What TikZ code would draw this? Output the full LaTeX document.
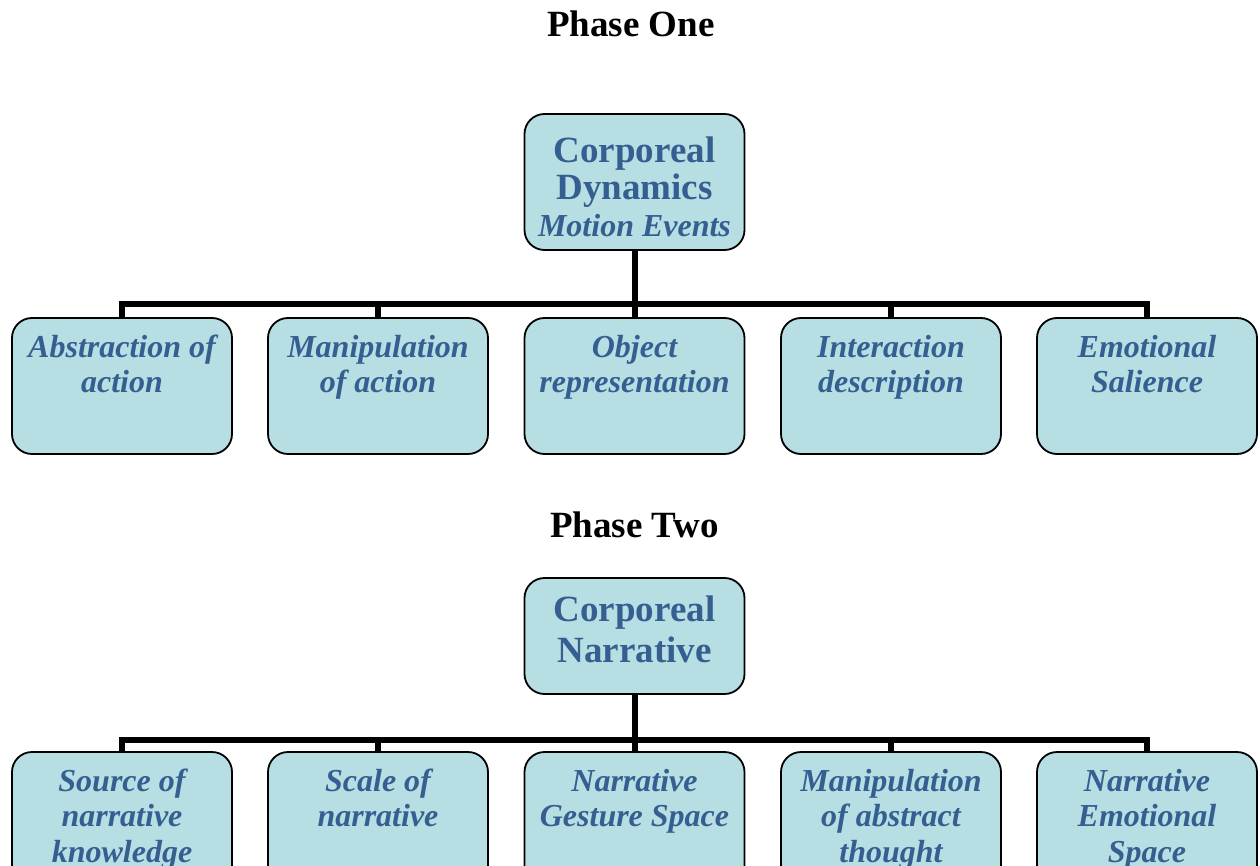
\documentclass[tikz,border=0pt]{standalone}
\usepackage{fontspec}
\setmainfont{Liberation Serif}
\definecolor{boxfill}{HTML}{B7DEE3}
\definecolor{boxtext}{HTML}{365F91}
% box content: fixed-height top-aligned paragraph, first baseline #2 below the top
\newcommand{\cellbody}[3]{\parbox[c][#1][t]{216pt}{\centering\rule{0pt}{#2}#3}}
\tikzset{
  cellbox/.style={draw=black, line width=1.8pt, fill=boxfill, rounded corners=20pt,
    inner sep=0pt, minimum width=220pt, text=boxtext},
  conn/.style={line width=6pt, draw=black, line join=miter},
  phasetitle/.style={font=\fontsize{37}{40}\selectfont\bfseries, anchor=base, inner sep=0pt}
}
\newcommand{\childtext}[1]{\cellbody{136pt}{39pt}{\fontsize{32}{35.5}\selectfont\bfseries\itshape #1}}
\begin{document}
\begin{tikzpicture}[x=1pt,y=1pt]
\useasboundingbox (0,0) rectangle (1260,-866);
\clip (0,0) rectangle (1260,-866);

% ---------- Phase One ----------
\node[phasetitle] (t1) at (631,-37) {Phase One};

\node[cellbox, minimum height=136pt] (p1) at (634.5,-182)
  {\cellbody{136pt}{49pt}{\fontsize{37}{37}\selectfont\bfseries Corporeal\\Dynamics\\{\fontsize{32}{37}\selectfont\itshape Motion Events}}};

\node[cellbox, minimum height=136pt] (a1) at (122,-386)  {\childtext{Abstraction of\\action}};
\node[cellbox, minimum height=136pt] (a2) at (378,-386)  {\childtext{Manipulation\\of action}};
\node[cellbox, minimum height=136pt] (a3) at (634.5,-386){\childtext{Object\\representation}};
\node[cellbox, minimum height=136pt] (a4) at (891,-386)  {\childtext{Interaction\\description}};
\node[cellbox, minimum height=136pt] (a5) at (1147,-386) {\childtext{Emotional\\Salience}};

\coordinate (bar1) at (634.5,-304);
\draw[conn] (p1.south) -- (bar1);
\draw[conn] (a1.north) |- (bar1) -| (a5.north);
\draw[conn] (a2.north) -- (a2.north |- bar1);
\draw[conn] (a3.north) -- (a3.north |- bar1);
\draw[conn] (a4.north) -- (a4.north |- bar1);

% ---------- Phase Two ----------
\node[phasetitle] (t2) at (634.5,-537) {Phase Two};

\node[cellbox, minimum height=116pt] (p2) at (634.5,-636)
  {\cellbody{116pt}{43pt}{\fontsize{37}{41}\selectfont\bfseries Corporeal\\Narrative}};

\node[cellbox, minimum height=136pt] (b1) at (122,-820)  {\childtext{Source of\\narrative\\knowledge}};
\node[cellbox, minimum height=136pt] (b2) at (378,-820)  {\childtext{Scale of\\narrative}};
\node[cellbox, minimum height=136pt] (b3) at (634.5,-820){\childtext{Narrative\\Gesture Space}};
\node[cellbox, minimum height=136pt] (b4) at (891,-820)  {\childtext{Manipulation\\of abstract\\thought}};
\node[cellbox, minimum height=136pt] (b5) at (1147,-820) {\childtext{Narrative\\Emotional\\Space}};

\coordinate (bar2) at (634.5,-740);
\draw[conn] (p2.south) -- (bar2);
\draw[conn] (b1.north) |- (bar2) -| (b5.north);
\draw[conn] (b2.north) -- (b2.north |- bar2);
\draw[conn] (b3.north) -- (b3.north |- bar2);
\draw[conn] (b4.north) -- (b4.north |- bar2);
\end{tikzpicture}
\end{document}
